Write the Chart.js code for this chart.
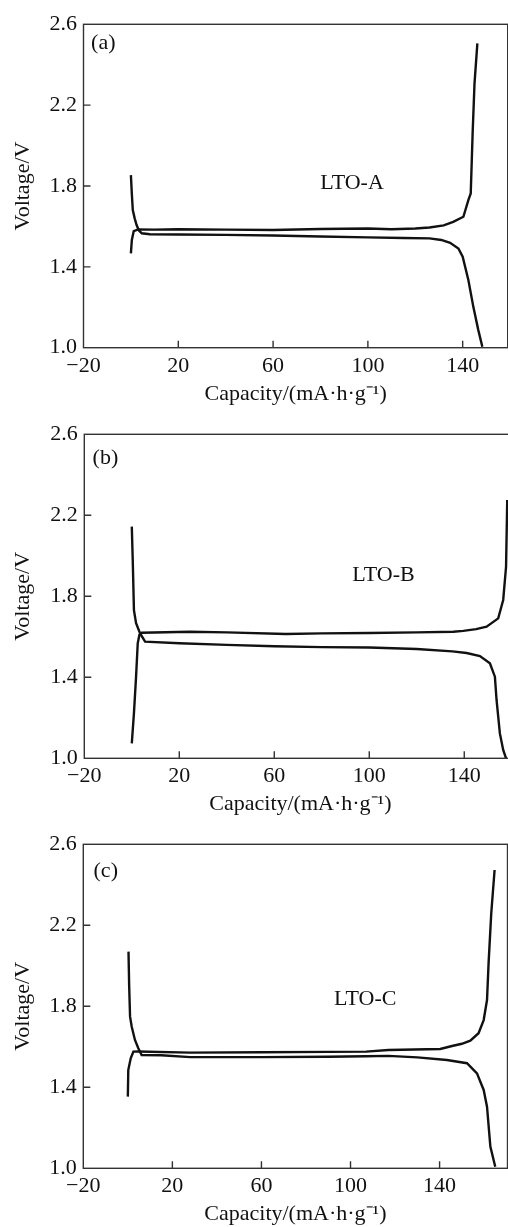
<!DOCTYPE html>
<html>
<head>
<meta charset="utf-8">
<script src="https://cdn.jsdelivr.net/npm/chart.js@4.4.1/dist/chart.umd.min.js"></script>
<style>
  html, body { margin: 0; padding: 0; background: #fff; overflow: hidden; }
  body { width: 508px; height: 1227px; position: relative; }
  canvas { position: absolute; left: 0; }
</style>
</head>
<body>
<canvas id="chartA" width="508" height="410" style="top:0"></canvas>
<canvas id="chartB" width="520" height="410" style="top:410px"></canvas>
<canvas id="chartC" width="508" height="410" style="top:820px"></canvas>
<script>
// tick values shared by all three panels
const capTicks = [-20, 20, 60, 100, 140];
const voltTicks = [1.0, 1.4, 1.8, 2.2, 2.6];

// (a) LTO-A
const aDischargeCap = [0, 0.4, 0.8, 1.6, 2.4, 3.4, 4.6, 8, 20, 40, 60, 80, 100, 115, 126, 131, 134.7, 138.2, 140, 142.4, 144.5, 146.6, 148.3];
const aDischargeV = [1.854, 1.76, 1.681, 1.64, 1.607, 1.58, 1.566, 1.561, 1.560, 1.558, 1.555, 1.550, 1.546, 1.543, 1.541, 1.533, 1.519, 1.491, 1.45, 1.335, 1.202, 1.087, 1.005];
const aChargeCap = [0, 0.4, 1.2, 3.1, 10, 20, 40, 60, 80, 100, 110, 120, 126, 132, 136, 140.3, 142.4, 143.4, 144.2, 145, 146.2];
const aChargeV = [1.467, 1.533, 1.577, 1.585, 1.584, 1.586, 1.584, 1.582, 1.587, 1.590, 1.586, 1.590, 1.595, 1.605, 1.623, 1.648, 1.73, 1.763, 2.06, 2.308, 2.506];

// (b) LTO-B
const bDischargeCap = [0, 0.4, 0.9, 1.8, 3.5, 5.6, 20, 40, 60, 80, 100, 120, 135, 141, 146.6, 150.8, 152.9, 153.6, 155, 156.4, 157.6];
const bDischargeV = [2.144, 1.979, 1.732, 1.667, 1.617, 1.576, 1.568, 1.560, 1.553, 1.549, 1.547, 1.540, 1.528, 1.520, 1.505, 1.469, 1.403, 1.288, 1.123, 1.041, 1.0];
const bChargeCap = [0, 0.9, 1.8, 2.5, 3.2, 4.2, 24.5, 40, 64.9, 80, 100, 120, 135.4, 139.6, 145, 149.4, 154.3, 156.4, 157.6, 158.1];
const bChargeV = [1.074, 1.222, 1.403, 1.568, 1.609, 1.620, 1.625, 1.622, 1.614, 1.617, 1.619, 1.622, 1.625, 1.629, 1.638, 1.65, 1.691, 1.782, 1.946, 2.276];

// (c) LTO-C
const cDischargeCap = [0.3, 0.6, 1.0, 1.75, 3.2, 4.7, 6.2, 15, 28, 60, 90, 107, 117, 130, 143.3, 152.3, 156.8, 159.8, 161.3, 162.8, 165];
const cDischargeV = [2.07, 1.90, 1.749, 1.699, 1.634, 1.593, 1.559, 1.558, 1.549, 1.549, 1.551, 1.553, 1.555, 1.548, 1.535, 1.519, 1.469, 1.387, 1.304, 1.107, 1.008];
const cChargeCap = [0, 0.2, 1.3, 2.5, 4.7, 28, 60, 90, 107, 117, 140.3, 145.6, 150, 153.8, 157.5, 159.8, 161.3, 162, 163.2, 164.7];
const cChargeV = [1.354, 1.485, 1.543, 1.576, 1.577, 1.571, 1.573, 1.575, 1.576, 1.584, 1.589, 1.604, 1.615, 1.63, 1.667, 1.732, 1.831, 2.012, 2.259, 2.473];

const serif = '"Liberation Serif", "Times New Roman", serif';
const ink = '#111';
const fontSize = 22;

const toPoints = (xs, ys) => xs.map((x, i) => ({ x, y: ys[i] }));

// frame box, inward tick marks and the in-plot labels
const framePlugin = {
  id: 'frame',
  afterDraw(chart, args, opts) {
    const { ctx, chartArea: a, scales: { x, y } } = chart;
    ctx.save();
    ctx.strokeStyle = '#333';
    ctx.lineWidth = 1.4;
    ctx.strokeRect(a.left, a.top, a.right - a.left, a.bottom - a.top);
    ctx.beginPath();
    x.ticks.forEach(t => {
      if (t.value <= x.min || t.value >= x.max) return;
      const px = x.getPixelForValue(t.value);
      ctx.moveTo(px, a.bottom);
      ctx.lineTo(px, a.bottom - 7);
    });
    y.ticks.forEach(t => {
      if (t.value <= y.min || t.value >= y.max) return;
      const py = y.getPixelForValue(t.value);
      ctx.moveTo(a.left, py);
      ctx.lineTo(a.left + 7, py);
    });
    ctx.stroke();

    ctx.fillStyle = ink;
    ctx.font = fontSize + 'px ' + serif;
    ctx.textBaseline = 'middle';
    opts.notes.forEach(n => {
      ctx.textAlign = n.align;
      ctx.fillText(n.text, x.getPixelForValue(n.x), y.getPixelForValue(n.y));
    });
    ctx.restore();
  }
};

function makePanel(id, p) {
  const line = { showLine: true, borderColor: ink, borderWidth: 2.4, pointRadius: 0, tension: 0 };
  return new Chart(document.getElementById(id), {
    type: 'scatter',
    data: {
      datasets: [
        { ...line, data: toPoints(p.disCap, p.disV) },
        { ...line, data: toPoints(p.chgCap, p.chgV) }
      ]
    },
    options: {
      responsive: false,
      animation: false,
      events: [],
      layout: { padding: { top: p.top, right: p.right, left: 0, bottom: 0 } },
      plugins: {
        legend: { display: false },
        tooltip: { enabled: false },
        frame: { notes: p.notes }
      },
      scales: {
        x: {
          type: 'linear',
          min: -20,
          max: p.xMax,
          afterBuildTicks: s => { s.ticks = capTicks.map(v => ({ value: v })); },
          afterFit: s => { s.height = p.xAxisH; },
          grid: { display: false, drawTicks: false },
          border: { display: false },
          ticks: {
            color: ink, padding: 5, maxRotation: 0, autoSkip: false,
            font: { family: serif, size: fontSize },
            callback: v => String(v).replace('-', '\u2212')
          },
          title: {
            display: true, text: 'Capacity/(mA\u00b7h\u00b7g\u207b\u00b9)', color: ink,
            font: { family: serif, size: fontSize, lineHeight: 1.2 },
            padding: { top: 0, bottom: 2.8 }
          }
        },
        y: {
          type: 'linear',
          min: 1.0,
          max: 2.6,
          afterBuildTicks: s => { s.ticks = voltTicks.map(v => ({ value: v })); },
          afterFit: s => { s.width = p.left; },
          grid: { display: false, drawTicks: false },
          border: { display: false },
          ticks: {
            color: ink, padding: 6.5,
            font: { family: serif, size: fontSize },
            callback: v => v.toFixed(1)
          },
          title: {
            display: true, text: 'Voltage/V', color: ink,
            font: { family: serif, size: fontSize, lineHeight: 1.2 },
            padding: { top: 10, bottom: 0 }
          }
        }
      }
    },
    plugins: [framePlugin]
  });
}

makePanel('chartA', {
  disCap: aDischargeCap, disV: aDischargeV, chgCap: aChargeCap, chgV: aChargeV,
  xMax: 159, top: 24.3, left: 83.5, right: 0.3, xAxisH: 62.3,
  notes: [
    { text: '(a)', x: -16.8, y: 2.507, align: 'left' },
    { text: 'LTO-A', x: 93.3, y: 1.814, align: 'center' }
  ]
});

makePanel('chartB', {
  disCap: bDischargeCap, disV: bDischargeV, chgCap: bChargeCap, chgV: bChargeV,
  xMax: 162, top: 24.3, left: 84.3, right: 3.5, xAxisH: 61.7,
  notes: [
    { text: '(b)', x: -16.5, y: 2.48, align: 'left' },
    { text: 'LTO-B', x: 106, y: 1.905, align: 'center' }
  ]
});

makePanel('chartC', {
  disCap: cDischargeCap, disV: cDischargeV, chgCap: cChargeCap, chgV: cChargeV,
  xMax: 170.5, top: 24.3, left: 83.3, right: 0.5, xAxisH: 61.7,
  notes: [
    { text: '(c)', x: -15.4, y: 2.465, align: 'left' },
    { text: 'LTO-C', x: 106.6, y: 1.836, align: 'center' }
  ]
});
</script>
</body>
</html>
